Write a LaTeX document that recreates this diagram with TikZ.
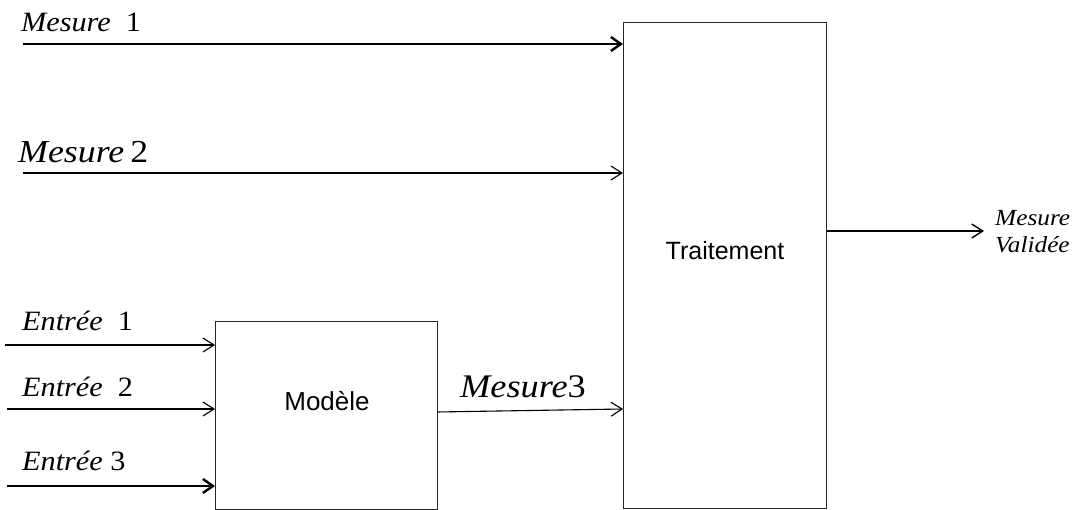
\documentclass[tikz,border=0pt]{standalone}
\usepackage{fontspec}
\setmainfont{Liberation Serif}
\setsansfont{Liberation Sans}
\usetikzlibrary{arrows.meta}
\tikzset{
  blk/.style={draw=black!85, line width=1.2pt, inner sep=0pt, anchor=north west},
  thinarr/.style={line width=1.1pt, -{Straight Barb[length=11pt,width=14pt,line width=1.1pt]}},
  thickarr/.style={line width=2.4pt, -{Straight Barb[length=10pt,width=14pt,line width=2.4pt]}},
  lbl/.style={inner sep=0pt, anchor=base west, font=\itshape},
}
\newcommand{\wide}[2][1.08]{\scalebox{#1}[1]{#2}}
\begin{document}
\begin{tikzpicture}[x=1pt,y=-1pt]
\useasboundingbox (0,0) rectangle (1074,510);
% boxes
\node[blk, minimum width=203pt, minimum height=486pt] (trait) at (623,22) {};
\node[font=\sffamily\fontsize{25}{28}\selectfont, inner sep=0pt, anchor=base] (ttxt) at (725,260) {Traitement};
\node[blk, minimum width=222pt, minimum height=188pt] (mod) at (215,321) {};
\node[font=\sffamily\fontsize{26}{29}\selectfont, inner sep=0pt, anchor=base] (mtxt) at (327,411) {Modèle};
% start coordinates
\coordinate (m1) at (23,44);
\coordinate (m2) at (23,173);
\coordinate (e1) at (5,345);
\coordinate (e2) at (7,409);
\coordinate (e3) at (7,486);
\coordinate (m3) at (437,412);
\coordinate (out) at (984,231);
% arrows
\draw[thickarr] (m1) -- (trait.west |- m1);
\draw[thinarr] (m2) -- (trait.west |- m2);
\draw[thinarr] (e1) -- (mod.west |- e1);
\draw[thinarr] (e2) -- (mod.west |- e2);
\draw[thickarr] (e3) -- (mod.west |- e3);
\draw[thinarr] (m3) -- (trait.west |- 0,409);
\draw[line width=1.6pt, -{Straight Barb[length=11pt,width=14pt,line width=1.4pt]}] (trait.east |- out) -- (out);
% labels
\node[lbl, font=\fontsize{28}{30}\selectfont] (l1) at (21,32) {\wide{\textit{Mesure}\ \ 1}};
\node[lbl, font=\fontsize{32}{34}\selectfont] (l2) at (18,163) {\wide[1.12]{\textit{Mesure}\,2}};
\node[lbl, font=\fontsize{28}{30}\selectfont] (l3) at (22,331) {\wide{\textit{Entrée}\ \ 1}};
\node[lbl, font=\fontsize{28}{30}\selectfont] (l4) at (22,397) {\wide{\textit{Entrée}\ \ 2}};
\node[lbl, font=\fontsize{28}{30}\selectfont] (l5) at (22,471) {\wide{\textit{Entrée}\ 3}};
\node[lbl, font=\fontsize{33}{36}\selectfont] (l6) at (460,398) {\wide[1.1]{\textit{Mesure}3}};
\node[lbl, font=\fontsize{23}{25}\selectfont] (l7) at (995,226) {\wide[1.1]{\textit{Mesure}}};
\node[lbl, font=\fontsize{23}{25}\selectfont] (l8) at (995,253) {\wide[1.1]{\textit{Validée}}};
\end{tikzpicture}
\end{document}
